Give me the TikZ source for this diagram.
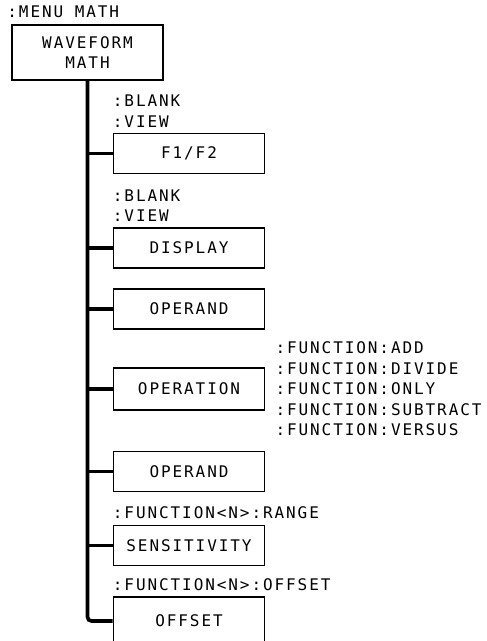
\documentclass[tikz,border=0pt]{standalone}
\usepackage{fontspec}
\newfontfamily\plotter[LetterSpace=12]{DejaVu Sans Mono}
\usetikzlibrary{positioning, calc}

\begin{document}
\begin{tikzpicture}[
  x=1pt, y=-1pt,
  font=\plotter\fontsize{16}{20.5}\selectfont,
  menubox/.style={
    rectangle,
    draw,
    line width=1.6pt,
    minimum width=151pt,
    minimum height=40pt,
    inner sep=0pt,
  },
  cmd/.style={
    inner sep=0pt,
    align=left,
  },
  trunk/.style={line width=3.6pt},
]
\useasboundingbox (0,0) rectangle (487,641);

% --- Waveform math ---
\node[menubox, minimum height=55pt, align=center] (Math) at (87.5,52.5) {WAVEFORM\\MATH};
\node[cmd, anchor=south west] (MenuCmd) at ($(Math.north west)+(-4,-6.5)$) {:MENU MATH};

% --- Submenu keys ---
\node[menubox] (F1F2) at (189,153.5) {F1/F2};
\node[cmd, anchor=south west] (F1F2Cmd) at ($(F1F2.north west)+(0,-5.5)$) {:BLANK\\:VIEW};

\node[menubox] (Display) at (189,248) {DISPLAY};
\node[cmd, anchor=south west] (DisplayCmd) at ($(Display.north west)+(0,-5.5)$) {:BLANK\\:VIEW};

\node[menubox] (OperandA) at (189,309) {OPERAND};

\node[menubox, minimum height=42pt] (Operation) at (189,389) {OPERATION};
\node[cmd, anchor=west] (OperationCmd) at ($(Operation.east)+(10,0)$) {%
  :FUNCTION:ADD\\
  :FUNCTION:DIVIDE\\
  :FUNCTION:ONLY\\
  :FUNCTION:SUBTRACT\\
  :FUNCTION:VERSUS};

\node[menubox] (OperandB) at (189,471.5) {OPERAND};

\node[menubox] (Sensitivity) at (189,545.5) {SENSITIVITY};
\node[cmd, anchor=south west] (SensitivityCmd) at ($(Sensitivity.north west)+(0,-5.5)$) {:FUNCTION<N>:RANGE};

% bottom box runs past the page edge
\node[menubox, minimum height=48pt] (Offset) at (189,621) {OFFSET};
\node[cmd, anchor=south west] (OffsetCmd) at ($(Offset.north west)+(0,-5.5)$) {:FUNCTION<N>:OFFSET};

% --- Spine and branches ---
\draw[trunk, rounded corners=4pt] (Math.south) |- (Offset.west);
\draw[trunk] (Math.south |- F1F2.west) -- (F1F2.west);
\draw[trunk] (Math.south |- Display.west) -- (Display.west);
\draw[trunk] (Math.south |- OperandA.west) -- (OperandA.west);
\draw[trunk] (Math.south |- Operation.west) -- (Operation.west);
\draw[trunk] (Math.south |- OperandB.west) -- (OperandB.west);
\draw[trunk] (Math.south |- Sensitivity.west) -- (Sensitivity.west);
\end{tikzpicture}
\end{document}
